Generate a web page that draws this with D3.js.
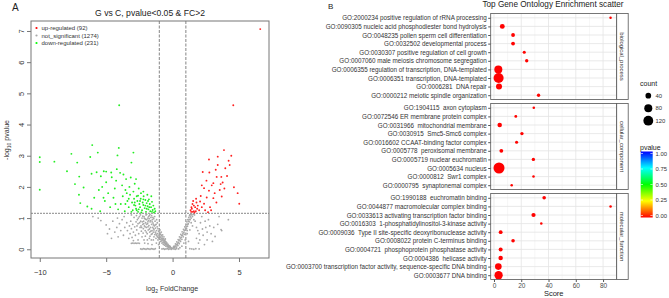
<!DOCTYPE html>
<html><head><meta charset="utf-8">
<script src="https://cdn.jsdelivr.net/npm/d3@7"></script>
<style>
body{margin:0;background:#fff}
svg{display:block;font-family:"Liberation Sans",Arial,sans-serif}
.pre{white-space:pre}
</style>
</head><body><svg id="c" width="669" height="298"></svg>
<script>
// ---------------- Volcano data (log2FC, -log10 pvalue) ----------------
const upPts = [[6.6,7.06],[4.57,4.62],[3.87,3.18],[4.42,3.0],[3.4,2.97],[2.74,2.88],[4.22,2.84],[3.4,2.7],[3.97,2.6],[2.27,2.48],[2.77,2.46],[3.32,2.32],[3.67,2.32],[3.07,2.12],[3.62,2.09],[3.77,2.14],[2.37,1.96],[4.62,1.99],[2.74,1.88],[3.17,1.8],[4.9,1.8],[2.12,1.71],[2.57,1.66],[3.07,1.64],[3.7,1.69],[1.77,1.62],[2.07,1.53],[2.37,1.46],[2.82,1.35],[5.02,1.46],[2.67,1.19],[1.5,1.45],[1.45,1.3],[1.4,1.2],[1.6,1.22],[1.7,1.35],[1.85,1.3],[1.55,1.55],[1.35,1.25],[1.9,1.4],[2.0,1.25],[2.2,1.35],[1.65,1.18],[1.5,1.2],[2.45,1.25],[3.3,1.5],[3.55,1.9],[2.95,2.05],[2.55,2.2],[4.1,2.35],[3.9,1.95],[2.2,2.05],[1.6,1.4],[1.8,1.5],[3.25,2.55],[2.9,1.25],[4.3,2.7],[1.42,1.35],[1.75,1.22]];
const downPts = [[-10.0,2.95],[-10.0,2.8],[-10.0,1.91],[-8.9,2.81],[-7.62,3.06],[-7.18,2.78],[-7.95,2.5],[-6.05,3.34],[-5.63,3.1],[-6.2,2.96],[-4.05,3.25],[-4.15,3.01],[-2.95,3.1],[-3.1,2.78],[-7.03,2.33],[-7.35,2.09],[-6.7,1.98],[-6.1,2.42],[-5.72,2.47],[-5.4,2.34],[-5.18,2.5],[-7.05,1.75],[-6.95,1.48],[-6.42,1.37],[-4.02,4.62],[-5.0,2.49],[-4.62,2.46],[-4.2,2.57],[-4.58,2.31],[-5.0,2.15],[-5.3,2.0],[-5.55,1.9],[-5.9,1.65],[-6.1,1.3],[-5.45,1.22],[-5.1,1.55],[-4.85,1.8],[-4.7,1.35],[-4.45,1.65],[-4.35,1.95],[-4.25,2.2],[-3.95,2.45],[-3.8,2.05],[-3.75,1.7],[-3.9,1.45],[-4.1,1.28],[-3.6,1.22],[-3.55,1.9],[-3.5,2.25],[-3.4,1.55],[-3.3,1.35],[-3.25,2.0],[-3.2,1.75],[-3.15,2.3],[-3.05,1.5],[-3.0,1.25],[-2.95,1.85],[-2.9,1.62],[-2.85,2.1],[-2.8,1.4],[-2.75,1.3],[-2.7,1.7],[-2.65,1.55],[-2.6,1.2],[-2.55,1.95],[-2.5,1.45],[-2.45,1.35],[-2.4,1.62],[-2.38,1.8],[-2.3,1.25],[-2.25,1.5],[-2.2,1.42],[-2.18,1.7],[-2.1,1.32],[-2.05,1.58],[-2.0,1.2],[-1.95,1.48],[-1.9,1.75],[-1.88,1.38],[-1.82,1.28],[-1.78,1.6],[-1.72,1.45],[-1.68,1.22],[-1.62,1.35],[-1.55,1.52],[-1.5,1.26],[-1.45,1.4],[-1.4,1.18],[-1.35,1.3],[-1.3,1.22],[-2.6,1.72],[-2.9,1.42],[-3.3,1.62],[-2.2,1.6],[-1.85,1.55],[-2.7,1.25],[-3.55,1.45],[-2.45,1.55],[-1.95,1.3],[-2.35,1.18],[-3.1,1.2],[-4.3,1.45],[-5.2,1.65],[-3.7,2.4],[-2.75,2.25],[-2.2,1.85],[-1.6,1.7],[-1.55,1.2],[-2.85,1.5],[-3.45,1.8],[-2.05,1.4],[-1.75,1.35],[-2.55,1.28]];
const nsPts = [[-2.4,0.01],[-2.3,0.0],[-2.2,0.02],[-2.1,0.01],[-2.0,0.0],[-1.9,0.02],[-1.8,0.01],[-1.7,0.0],[-1.6,0.02],[-1.5,0.01],[-1.4,0.0],[-1.3,0.02],[-0.8,0.01],[-0.7,0.02],[-0.6,0.0],[-0.5,0.01],[-0.4,0.02],[-0.3,0.0],[-0.2,0.01],[-0.1,0.0],[0.0,0.02],[0.1,0.01],[0.2,0.0],[0.3,0.02],[0.45,0.01],[1.3,0.02],[1.45,0.01],[1.6,0.0],[1.75,0.02],[2.0,0.01],
[-3.1,0.19],[-3.0,0.2],[-2.9,0.19],[-2.8,0.2],[-2.7,0.19],[-2.6,0.2],[-2.5,0.19],
[-0.12,0.05],[-0.18,0.09],[-0.22,0.07],[-0.27,0.12],[-0.31,0.1],[-0.34,0.16],[-0.38,0.13],[-0.42,0.2],[-0.45,0.17],[-0.48,0.23],[-0.52,0.19],[-0.55,0.26],[-0.58,0.22],[-0.62,0.29],[-0.64,0.24],[-0.67,0.33],[-0.7,0.27],[-0.73,0.35],[-0.76,0.3],[-0.78,0.4],[-0.81,0.33],[-0.84,0.44],[-0.86,0.36],[-0.89,0.48],[-0.92,0.39],[-0.94,0.52],[-0.97,0.42],[-0.99,0.55],[-0.3,0.05],[-0.4,0.08],[-0.5,0.1],[-0.6,0.13],[-0.7,0.16],[-0.8,0.2],[-0.9,0.25],[-0.55,0.33],[-0.65,0.4],[-0.75,0.46],[-0.85,0.55],[-0.95,0.62],
[-1.02,0.45],[-1.05,0.58],[-1.08,0.38],[-1.1,0.66],[-1.13,0.5],[-1.16,0.72],[-1.18,0.43],[-1.21,0.6],[-1.24,0.8],[-1.26,0.52],[-1.29,0.68],[-1.32,0.9],[-1.34,0.47],[-1.37,0.75],[-1.4,0.62],[-1.42,0.98],[-1.45,0.55],[-1.47,0.84],[-1.5,0.7],[-1.1,0.3],[-1.25,0.35],[-1.4,0.4],[-1.2,0.95],[-1.35,1.05],[-1.15,0.85],
[-1.52,0.95],[-1.55,0.6],[-1.58,0.8],[-1.6,0.48],[-1.63,1.02],[-1.66,0.7],[-1.69,0.88],[-1.72,0.55],[-1.75,1.08],[-1.78,0.76],[-1.8,0.92],[-1.83,0.62],[-1.86,1.0],[-1.88,0.82],[-1.91,0.5],[-1.94,0.95],[-1.97,0.7],[-2.0,1.1],[-2.03,0.85],[-2.06,0.6],[-2.09,0.98],[-2.12,0.75],[-2.15,1.05],[-2.18,0.9],[-2.2,0.66],[-1.6,0.3],[-1.75,0.35],[-1.9,0.3],[-2.05,0.42],[-2.15,0.3],[-1.7,1.12],[-1.95,1.12],
[-2.25,0.8],[-2.3,1.0],[-2.35,0.58],[-2.4,0.9],[-2.45,0.7],[-2.5,1.05],[-2.55,0.5],[-2.6,0.82],[-2.65,0.95],[-2.7,0.62],[-2.75,0.88],[-2.8,0.45],[-2.85,0.72],[-2.9,1.02],[-2.95,0.55],[-3.0,0.8],[-3.05,0.38],[-3.1,0.66],[-3.15,0.9],[-3.2,0.5],[-3.25,0.75],[-3.3,0.35],[-3.4,0.6],[-3.45,0.85],[-2.3,0.4],[-2.6,0.3],[-2.95,0.28],[-2.42,1.1],[-2.72,1.08],[-3.1,1.1],
[-3.6,0.7],[-3.7,0.45],[-3.8,0.95],[-3.9,0.6],[-4.0,0.82],[-4.1,0.4],[-4.2,0.7],[-4.35,0.55],[-4.5,0.9],[-4.6,0.35],[-4.75,0.65],[-4.9,0.5],[-5.0,0.78],[-3.65,1.05],[-4.15,1.0],[-6.0,1.05],[-5.6,1.0],[-5.4,0.92],
[0.05,0.05],[0.12,0.1],[0.18,0.08],[0.22,0.17],[0.28,0.15],[0.32,0.24],[0.38,0.2],[0.42,0.31],[0.48,0.28],[0.52,0.4],[0.58,0.36],[0.62,0.48],[0.68,0.44],[0.72,0.56],[0.78,0.5],[0.82,0.64],[0.88,0.6],[0.92,0.72],[0.97,0.68],[0.3,0.07],[0.4,0.12],[0.5,0.18],[0.6,0.25],[0.7,0.32],[0.8,0.4],[0.9,0.48],
[1.02,0.8],[1.05,0.66],[1.08,0.88],[1.12,0.74],[1.15,0.95],[1.18,0.82],[1.22,1.02],[1.25,0.88],[1.28,1.08],[1.32,0.95],[1.36,1.12],[1.4,1.0],[1.45,1.1],[1.5,1.05],[1.55,1.12],
[1.1,0.5],[1.3,0.62],[1.5,0.75],[1.7,0.9],[1.9,0.6],[2.1,0.85],[2.3,0.45],[2.5,0.7],[2.7,0.95],[2.9,0.5],[3.0,0.25],[3.2,0.41],[3.65,0.63],[3.7,0.6],[4.2,0.95],[2.2,1.05],[2.6,0.3],[1.8,0.35],[2.4,0.15],[3.4,0.8],[1.2,0.25],[2.05,0.3],[2.8,0.75],[3.5,1.05],[1.65,1.1],
[-0.08,0.03],[-0.16,0.05],[-0.24,0.1],[-0.36,0.11],[-0.44,0.14],[-0.53,0.16],[-0.63,0.2],[-0.72,0.22],[-0.82,0.27],[-0.93,0.32],[-1.03,0.36],[-1.12,0.4],[-1.22,0.46],[-1.31,0.55],[-1.43,0.66],[-1.53,0.5],[-1.64,0.58],[-1.74,0.65],[-1.85,0.72],[-1.96,0.8],[-2.07,0.72],[-2.17,0.82],[-2.28,0.88],[-2.38,0.75],[-2.48,0.85],[-1.44,0.78],[-1.54,0.88],[-1.65,0.92],[-1.76,0.98],[-1.86,0.88],[-2.02,0.96],[-2.13,1.0],[-2.24,1.06],[-2.33,0.7],[-1.3,0.78],[-1.48,1.02],[-1.58,1.08],[-1.81,1.05],[-2.58,1.0],[-2.68,0.75],[-2.22,0.52],[-1.98,0.55],[-1.7,0.42],[-1.45,0.3],[-1.22,0.2],[-1.05,0.15],[-1.55,0.15],[-1.85,0.18],[-2.1,0.2],
[0.08,0.08],[0.15,0.05],[0.25,0.11],[0.35,0.16],[0.45,0.22],[0.55,0.3],[0.65,0.38],[0.75,0.45],[0.85,0.54],[0.95,0.62],[1.05,0.72],[1.15,0.8],[1.25,0.96],[1.35,1.04],[1.2,0.9],[1.3,1.1],[1.1,0.6],[1.4,0.85],[1.6,0.95],[1.8,0.7],[2.0,0.5],[2.25,0.65],[2.6,0.55],[3.1,0.7],[2.45,0.9],[1.95,0.2],[0.55,0.05],[0.7,0.1],[0.85,0.2],[0.95,0.3]];
const volcanoXTicks = [-10,-5,0,5];
const volcanoYTicks = [0,1,2,3,4,5,6,7];
const fcCut = 1;
const pCut = 1.15;
const legendLabels = ["up-regulated (92)","not_significant (1274)","down-regulated (231)"];
const legendColors = ["#ff0000","#a8a8a8","#00ff00"];

// ---------------- GO enrichment data ----------------
const goCategories = ["biological_process","cellular_component","molecular_function"];
const bpTerms = ["GO:2000234 positive regulation of rRNA processing","GO:0090305 nucleic acid phosphodiester bond hydrolysis","GO:0048235 pollen sperm cell differentiation","GO:0032502 developmental process","GO:0030307 positive regulation of cell growth","GO:0007060 male meiosis chromosome segregation","GO:0006355 regulation of transcription, DNA-templated","GO:0006351 transcription, DNA-templated","GO:0006281  DNA repair","GO:0000212 meiotic spindle organization"];
const bpScores = [85.5,6.1,14,14,22.2,24,3.2,3.4,3.7,32.7];
const bpCounts = [8,30,18,18,12,14,80,125,45,14];
const bpPvalues = [0.002,0.001,0.003,0.002,0.004,0.003,0.0,0.0,0.001,0.004];
const ccTerms = ["GO:1904115  axon cytoplasm","GO:0072546 ER membrane protein complex","GO:0031966  mitochondrial membrane","GO:0030915  Smc5-Smc6 complex","GO:0016602 CCAAT-binding factor complex","GO:0005778  peroxisomal membrane","GO:0005719 nuclear euchromatin","GO:0005634 nucleus","GO:0000812  Swr1 complex","GO:0000795  synaptonemal complex"];
const ccScores = [29.2,16,4.2,20.5,16.6,5.4,28.9,3.7,29,13];
const ccCounts = [8,10,25,14,12,18,14,150,8,8];
const ccPvalues = [0.003,0.004,0.001,0.002,0.003,0.002,0.002,0.0,0.003,0.004];
const mfTerms = ["GO:1990188  euchromatin binding","GO:0044877 macromolecular complex binding","GO:0033613 activating transcription factor binding","GO:0016303  1-phosphatidylinositol-3-kinase activity","GO:0009036  Type II site-specific deoxyribonuclease activity","GO:0008022 protein C-terminus binding","GO:0004721  phosphoprotein phosphatase activity","GO:0004386  helicase activity","GO:0003700 transcription factor activity, sequence-specific DNA binding","GO:0003677 DNA binding"];
const mfScores = [36.8,85.5,29,34.7,4.9,14,4.9,4.9,3.2,3.4];
const mfCounts = [16,8,22,8,18,16,20,25,55,85];
const mfPvalues = [0.002,0.004,0.002,0.004,0.002,0.003,0.002,0.001,0.0,0.0];
const scoreTicks = [0,20,40,60,80];
const scoreMinor = [10,30,50,70,90];
const countBreaks = [40,80,120];
const pvalueBreaks = [0,0.25,0.5,0.75,1];
const rainbowStops = ["#ff0000","#ffff00","#00ff00","#00ffff","#0000ff"];

const svg = d3.select("#c");

// ================= Panel A: volcano =================
const vx = d3.scaleLinear().domain([-10.66, 7.26]).range([31, 269]);
const vy = d3.scaleLinear().domain([-0.28, 7.32]).range([258, 21]);
const A = svg.append("g");
A.append("text").attr("x",12).attr("y",10.5).attr("font-size",10).attr("fill","#222").text("A");
A.append("text").attr("x",150).attr("y",15.5).attr("text-anchor","middle").attr("font-size",8.6).attr("fill","#222").text("G vs C, pvalue<0.05 & FC>2");

// threshold lines
A.append("line").attr("x1",vx.range()[0]).attr("x2",vx.range()[1]).attr("y1",vy(pCut)).attr("y2",vy(pCut))
 .attr("stroke","#a0a0a0").attr("stroke-width",1.3).attr("stroke-dasharray","2,1");
[-fcCut, fcCut].forEach(v=>{
  A.append("line").attr("x1",vx(v)).attr("x2",vx(v)).attr("y1",vy.range()[0]).attr("y2",vy.range()[1])
   .attr("stroke","#666").attr("stroke-width",0.8).attr("stroke-dasharray","3,1.5");
});

// points
A.append("g").selectAll("circle").data(nsPts).join("circle")
 .attr("cx",d=>vx(d[0])).attr("cy",d=>vy(d[1])).attr("r",0.9).attr("fill","#a8a8a8");
A.append("g").selectAll("circle").data(downPts).join("circle")
 .attr("cx",d=>vx(d[0])).attr("cy",d=>vy(d[1])).attr("r",0.95).attr("fill","#22ee22");
A.append("g").selectAll("circle").data(upPts).join("circle")
 .attr("cx",d=>vx(d[0])).attr("cy",d=>vy(d[1])).attr("r",0.95).attr("fill","#ff2020");

// box
A.append("rect").attr("x",31).attr("y",21).attr("width",238).attr("height",237)
 .attr("fill","none").attr("stroke","#777").attr("stroke-width",1);

// x axis
const xa = A.append("g").attr("transform","translate(0,258)")
 .call(d3.axisBottom(vx).tickValues(volcanoXTicks).tickSize(4).tickPadding(8).tickFormat(d3.format("d")));
xa.select(".domain").remove();
xa.selectAll("line").attr("stroke","#777");
xa.selectAll("text").attr("font-size",7.5).attr("fill","#333").attr("font-family","Liberation Sans, Arial, sans-serif");
// y axis
const ya = A.append("g").attr("transform","translate(31,0)")
 .call(d3.axisLeft(vy).tickValues(volcanoYTicks).tickSize(4).tickFormat(d3.format("d")));
ya.select(".domain").remove();
ya.selectAll("line").attr("stroke","#777");
ya.selectAll("text").attr("font-size",7.5).attr("fill","#333").attr("font-family","Liberation Sans, Arial, sans-serif")
 .attr("x",0).attr("text-anchor","middle")
 .attr("transform","translate(-10,0) rotate(-90)").attr("dy","0.35em");

// axis labels
const xl = A.append("text").attr("x",172).attr("y",291).attr("text-anchor","middle").attr("font-size",7).attr("fill","#333");
xl.append("tspan").text("log");
xl.append("tspan").attr("font-size",5).attr("dy",1.5).text("2");
xl.append("tspan").attr("dy",-1.5).text(" FoldChange");
const yl = A.append("text").attr("transform","translate(9,140) rotate(-90)").attr("text-anchor","middle").attr("font-size",7).attr("fill","#333");
yl.append("tspan").text("-log");
yl.append("tspan").attr("font-size",5).attr("dy",1.5).text("10");
yl.append("tspan").attr("dy",-1.5).text(" pvalue");

// legend
const lg = A.append("g");
legendLabels.forEach((t,i)=>{
  const yy = 28 + i*7.5;
  lg.append("circle").attr("cx",36.5).attr("cy",yy).attr("r",1.1).attr("fill",legendColors[i]);
  lg.append("text").attr("x",41.5).attr("y",yy+2).attr("font-size",6).attr("fill","#333").text(t);
});

// ================= Panel B: GO scatter =================
const B = svg.append("g");
B.append("text").attr("x",328).attr("y",9).attr("font-size",8).attr("fill","#222").text("B");
B.append("text").attr("x",553).attr("y",7).attr("text-anchor","middle").attr("font-size",8.2).attr("fill","#222").text("Top Gene Ontology Enrichment scatter");

const gx = d3.scaleLinear().domain([-2.4, 90]).range([490.7, 616.7]);
const rScale = d3.scaleSqrt().domain([0,150]).range([0,5.5]);
const cScale = d3.scaleLinear().domain(pvalueBreaks).range(rainbowStops);

const panelTops = [13.5, 103.5, 193.5];
const panelH = 86;
const panelData = [
  {terms:bpTerms, scores:bpScores, counts:bpCounts, pv:bpPvalues},
  {terms:ccTerms, scores:ccScores, counts:ccCounts, pv:ccPvalues},
  {terms:mfTerms, scores:mfScores, counts:mfCounts, pv:mfPvalues}
];
panelData.forEach((p,pi)=>{
  const top = panelTops[pi];
  const gy = d3.scalePoint().domain(p.terms).range([top, top+panelH]).padding(0.5);
  const g = B.append("g");
  g.append("rect").attr("x",gx.range()[0]).attr("y",top).attr("width",gx.range()[1]-gx.range()[0]).attr("height",panelH).attr("fill","#fff");
  scoreMinor.filter(v=>gx(v)<gx.range()[1]).forEach(v=>g.append("line").attr("x1",gx(v)).attr("x2",gx(v)).attr("y1",top).attr("y2",top+panelH).attr("stroke","#f0f0f0").attr("stroke-width",0.6));
  scoreTicks.forEach(v=>g.append("line").attr("x1",gx(v)).attr("x2",gx(v)).attr("y1",top).attr("y2",top+panelH).attr("stroke","#e3e3e3").attr("stroke-width",0.8));
  p.terms.forEach(t=>g.append("line").attr("x1",gx.range()[0]).attr("x2",gx.range()[1]).attr("y1",gy(t)).attr("y2",gy(t)).attr("stroke","#e3e3e3").attr("stroke-width",0.8));
  g.append("g").selectAll("circle").data(p.terms.map((t,i)=>({t, s:p.scores[i], c:p.counts[i], pv:p.pv[i]})))
   .join("circle").attr("cx",d=>gx(d.s)).attr("cy",d=>gy(d.t)).attr("r",d=>rScale(d.c)).attr("fill",d=>cScale(d.pv));
  g.append("rect").attr("x",gx.range()[0]).attr("y",top).attr("width",gx.range()[1]-gx.range()[0]).attr("height",panelH)
   .attr("fill","none").attr("stroke","#555").attr("stroke-width",0.8);
  const ay = g.append("g").attr("transform",`translate(${gx.range()[0]},0)`).call(d3.axisLeft(gy).tickSize(2.5).tickPadding(1.5));
  ay.select(".domain").remove();
  ay.selectAll("line").attr("stroke","#555");
  ay.selectAll("text").attr("class","pre").attr("font-size",6.3).attr("fill","#333").attr("font-family","Liberation Sans, Arial, sans-serif");
  g.append("rect").attr("x",gx.range()[1]).attr("y",top).attr("width",11.5).attr("height",panelH)
   .attr("fill","#fff").attr("stroke","#555").attr("stroke-width",0.8);
  g.append("text").attr("transform",`translate(${gx.range()[1]+5.75},${top+panelH/2}) rotate(90)`)
   .attr("text-anchor","middle").attr("dy","0.35em").attr("font-size",5.9).attr("fill","#333").text(goCategories[pi]);
});
const gxa = B.append("g").attr("transform",`translate(0,${panelTops[2]+panelH})`)
 .call(d3.axisBottom(gx).tickValues(scoreTicks).tickSize(2.5).tickPadding(1.5).tickFormat(d3.format("d")));
gxa.select(".domain").remove();
gxa.selectAll("line").attr("stroke","#555");
gxa.selectAll("text").attr("font-size",6.5).attr("fill","#4d4d4d").attr("font-family","Liberation Sans, Arial, sans-serif");
B.append("text").attr("x",553.7).attr("y",296).attr("text-anchor","middle").attr("font-size",7.5).attr("fill","#222").text("Score");

// size legend
B.append("text").attr("x",640).attr("y",86).attr("font-size",7).attr("fill","#222").text("count");
const legY = d3.scalePoint().domain(countBreaks).range([95.7, 120.7]);
countBreaks.forEach(c=>{
  B.append("circle").attr("cx",648.3).attr("cy",legY(c)).attr("r",rScale(c)).attr("fill","#000");
  B.append("text").attr("x",655.5).attr("y",legY(c)).attr("dy","0.35em").attr("font-size",5.9).attr("fill","#333").text(c);
});
// colour legend
B.append("text").attr("x",640).attr("y",149.5).attr("font-size",7).attr("fill","#222").text("pvalue");
const defs = svg.append("defs");
const grad = defs.append("linearGradient").attr("id","rb").attr("x1",0).attr("x2",0).attr("y1",1).attr("y2",0);
pvalueBreaks.forEach((b,i)=>grad.append("stop").attr("offset",b).attr("stop-color",rainbowStops[i]));
const cbY = d3.scaleLinear().domain([0,1]).range([215.5,153.5]);
B.append("rect").attr("x",640.7).attr("y",cbY(1)-2).attr("width",12).attr("height",cbY(0)-cbY(1)+4).attr("fill","url(#rb)");
pvalueBreaks.forEach(b=>{
  B.append("line").attr("x1",640.7).attr("x2",643).attr("y1",cbY(b)).attr("y2",cbY(b)).attr("stroke","#fff").attr("stroke-width",0.6);
  B.append("line").attr("x1",650.4).attr("x2",652.7).attr("y1",cbY(b)).attr("y2",cbY(b)).attr("stroke","#fff").attr("stroke-width",0.6);
  B.append("text").attr("x",655.5).attr("y",cbY(b)).attr("dy","0.35em").attr("font-size",5.9).attr("fill","#333").text(d3.format(".2f")(b));
});
</script>
</body></html>
